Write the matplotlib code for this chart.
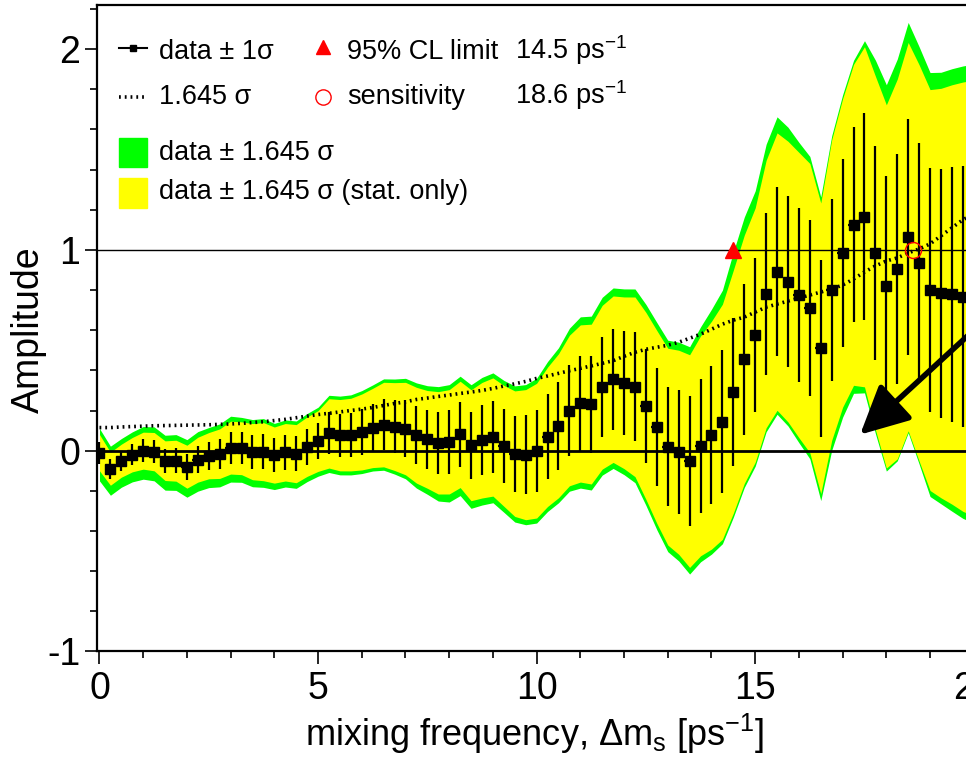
import matplotlib
matplotlib.use("Agg")
import matplotlib.pyplot as plt
import numpy as np
from matplotlib.lines import Line2D
from matplotlib.patches import Rectangle
from matplotlib.ticker import MultipleLocator, FormatStrFormatter

plt.rcParams["font.family"] = ["Liberation Sans", "DejaVu Sans"]
plt.rcParams["mathtext.fontset"] = "custom"
plt.rcParams["mathtext.rm"] = "Liberation Sans"
plt.rcParams["mathtext.it"] = "Liberation Sans:italic"
plt.rcParams["mathtext.default"] = "regular"
plt.rcParams["axes.unicode_minus"] = False

# amplitude scan, one point every 0.25 ps^-1
dms = np.linspace(0.0, 20.0, 81)

amp = [
    -0.010, -0.090, -0.050, -0.020, 0.000, -0.005, -0.050, -0.050,
    -0.080, -0.045, -0.025, -0.015, 0.015, 0.012, -0.005, -0.005,
    -0.022, -0.008, -0.015, 0.020, 0.048, 0.086, 0.077, 0.080,
    0.093, 0.113, 0.130, 0.120, 0.110, 0.077, 0.056, 0.039,
    0.044, 0.081, 0.027, 0.052, 0.068, 0.024, -0.015, -0.020,
    0.000, 0.069, 0.124, 0.200, 0.235, 0.232, 0.316, 0.356,
    0.338, 0.318, 0.223, 0.118, 0.020, -0.008, -0.052, 0.024,
    0.077, 0.144, 0.294, 0.455, 0.576, 0.780, 0.892, 0.842,
    0.775, 0.710, 0.510, 0.800, 0.985, 1.125, 1.165, 0.985,
    0.818, 0.905, 1.066, 0.935, 0.800, 0.785, 0.778, 0.767,
    0.760,
]

# statistical error (error bars, yellow band)
sig_stat = [
    0.055, 0.050, 0.050, 0.052, 0.056, 0.058, 0.060, 0.062,
    0.065, 0.068, 0.070, 0.075, 0.080, 0.080, 0.085, 0.088,
    0.085, 0.087, 0.088, 0.090, 0.092, 0.105, 0.108, 0.110,
    0.115, 0.120, 0.128, 0.133, 0.140, 0.145, 0.148, 0.155,
    0.158, 0.161, 0.168, 0.175, 0.179, 0.183, 0.190, 0.197,
    0.204, 0.211, 0.218, 0.228, 0.238, 0.242, 0.248, 0.252,
    0.260, 0.272, 0.283, 0.292, 0.298, 0.309, 0.322, 0.333,
    0.345, 0.356, 0.368, 0.376, 0.385, 0.405, 0.420, 0.425,
    0.432, 0.438, 0.440, 0.455, 0.467, 0.486, 0.515, 0.535,
    0.550, 0.575, 0.588, 0.600, 0.607, 0.620, 0.635, 0.650,
    0.660,
]

# 1.645 sigma (total), dotted curve
sens = [
    0.115, 0.115, 0.118, 0.120, 0.122, 0.124, 0.125, 0.126,
    0.127, 0.128, 0.129, 0.131, 0.133, 0.136, 0.140, 0.144,
    0.150, 0.156, 0.164, 0.172, 0.180, 0.186, 0.193, 0.200,
    0.207, 0.215, 0.225, 0.235, 0.243, 0.255, 0.262, 0.270,
    0.277, 0.285, 0.292, 0.300, 0.310, 0.322, 0.333, 0.345,
    0.360, 0.372, 0.385, 0.398, 0.410, 0.422, 0.435, 0.448,
    0.470, 0.490, 0.505, 0.515, 0.525, 0.540, 0.560, 0.580,
    0.605, 0.630, 0.650, 0.665, 0.690, 0.715, 0.730, 0.745,
    0.760, 0.775, 0.790, 0.805, 0.825, 0.855, 0.890, 0.920,
    0.945, 0.960, 0.985, 1.005, 1.030, 1.070, 1.110, 1.150,
    1.180,
]

# extra width of the total-error band above / below the stat-only band
syst_hi = [
    0.030, 0.030, 0.028, 0.028, 0.028, 0.028, 0.028, 0.028,
    0.028, 0.028, 0.025, 0.025, 0.025, 0.022, 0.020, 0.020,
    0.018, 0.018, 0.018, 0.017, 0.017, 0.017, 0.017, 0.017,
    0.017, 0.017, 0.017, 0.018, 0.020, 0.022, 0.024, 0.025,
    0.025, 0.025, 0.025, 0.025, 0.025, 0.025, 0.025, 0.025,
    0.025, 0.028, 0.030, 0.035, 0.040, 0.040, 0.040, 0.040,
    0.040, 0.040, 0.040, 0.040, 0.040, 0.040, 0.040, 0.045,
    0.060, 0.070, 0.090, 0.090, 0.085, 0.080, 0.080, 0.070,
    0.050, 0.035, 0.030, 0.020, 0.020, 0.020, 0.030, 0.080,
    0.100, 0.100, 0.100, 0.090, 0.085, 0.080, 0.080, 0.080,
    0.080,
]
syst_lo = [
    0.050, 0.050, 0.050, 0.050, 0.050, 0.050, 0.048, 0.046,
    0.045, 0.045, 0.044, 0.042, 0.040, 0.038, 0.035, 0.033,
    0.032, 0.030, 0.028, 0.026, 0.024, 0.022, 0.020, 0.020,
    0.018, 0.017, 0.017, 0.018, 0.020, 0.025, 0.030, 0.035,
    0.040, 0.040, 0.038, 0.035, 0.033, 0.030, 0.028, 0.025,
    0.025, 0.025, 0.025, 0.027, 0.030, 0.030, 0.030, 0.030,
    0.030, 0.030, 0.030, 0.032, 0.033, 0.033, 0.033, 0.030,
    0.025, 0.022, 0.020, 0.020, 0.020, 0.020, 0.020, 0.020,
    0.025, 0.030, 0.035, 0.050, 0.050, 0.040, 0.030, 0.020,
    0.015, 0.010, 0.010, 0.015, 0.030, 0.030, 0.035, 0.035,
    0.035,
]

limit_dms = 14.5
sens_dms = 18.6
bin_half = 0.125
arrow_tip = (17.4, 0.08)
arrow_tail = (20.6, 0.72)

amp = np.array(amp)
sig_stat = np.array(sig_stat)
syst_hi = np.array(syst_hi)
syst_lo = np.array(syst_lo)

W, H = 966, 758
fig = plt.figure(figsize=(W / 100, H / 100), dpi=100)
ax = fig.add_axes([97 / W, (H - 651.4) / H, 903 / W, 646.4 / H])
ax.set_xlim(-0.057, 20.6)
ax.set_ylim(-1.0, 2.22)

dots = (0, (0.5, 1.1))
k = 1.645
y_hi = amp + k * sig_stat
y_lo = amp - k * sig_stat
ax.fill_between(dms, y_lo - syst_lo, y_hi + syst_hi, color="#00ff00", lw=0, zorder=1)
ax.fill_between(dms, y_lo, y_hi, color="#ffff00", lw=0, zorder=2)
ax.axhline(0, color="k", lw=2, zorder=3)
ax.axhline(1, color="k", lw=1, zorder=3)
ax.plot(dms, sens, color="k", lw=2.6, ls=dots, zorder=4)
ax.errorbar(dms, amp, yerr=sig_stat, xerr=bin_half, fmt="s", ms=6.5,
            color="k", elinewidth=1.6, capsize=0, zorder=5)
ax.plot([limit_dms], [1.0], "^", color="red", ms=11, zorder=6)
ax.plot([sens_dms], [1.0], "o", mfc="none", mec="red", mew=1.0, ms=11.5, zorder=6)
ax.annotate("", xy=arrow_tip, xytext=arrow_tail, annotation_clip=False,
            arrowprops=dict(arrowstyle="-|>,head_length=0.4,head_width=0.2",
                            mutation_scale=74, lw=4, color="k",
                            shrinkA=0, shrinkB=0), zorder=7)

for side in ("left", "bottom", "top"):
    ax.spines[side].set_linewidth(1.6)
ax.spines["right"].set_visible(False)

ax.xaxis.set_major_locator(MultipleLocator(5))
ax.xaxis.set_minor_locator(MultipleLocator(1))
ax.yaxis.set_major_locator(MultipleLocator(1))
ax.yaxis.set_minor_locator(MultipleLocator(0.2))
ax.yaxis.set_major_formatter(FormatStrFormatter("%g"))
ax.tick_params(which="both", direction="out", top=False, right=False,
               width=1.2, labelsize=27)
ax.tick_params(which="major", length=9)
ax.tick_params(which="minor", length=5)
ax.tick_params(axis="x", pad=5)
ax.tick_params(axis="y", pad=3)

ax.set_xlabel("mixing frequency, Δm$_s$ [ps$^{-1}$]", fontsize=26)
ax.xaxis.set_label_coords(0.485, -0.094)
ax.set_ylabel("Amplitude", fontsize=27)
ax.yaxis.set_label_coords(-0.055, 0.497)


def fx(x):
    return x / W


def fy(y):
    return 1 - y / H


# legend, drawn by hand like the ROOT one
fig.add_artist(Line2D([fx(119), fx(147)], [fy(48), fy(48)], color="k", lw=1.5))
fig.add_artist(Line2D([fx(133)], [fy(48)], marker="s", ms=5, color="k"))
fig.add_artist(Line2D([fx(323)], [fy(47)], marker="^", ms=10, color="red", ls="none"))
fig.add_artist(Line2D([fx(119), fx(147)], [fy(97), fy(97)], color="k", lw=2.6,
                      ls=dots))
fig.add_artist(Line2D([fx(323)], [fy(97)], marker="o", ms=11, mfc="none",
                      mec="red", mew=1.0, ls="none"))
fig.add_artist(Rectangle((fx(119), fy(167)), 28 / W, 29 / H, color="#00ff00",
                         transform=fig.transFigure))
fig.add_artist(Rectangle((fx(119), fy(208)), 28 / W, 30 / H, color="#ffff00",
                         transform=fig.transFigure))

lg = dict(fontsize=19.5, va="baseline", ha="left")
fig.text(fx(159), fy(59), "data ± 1σ", **lg)
fig.text(fx(347), fy(59), "95% CL limit", **lg)
fig.text(fx(515), fy(59), "%.1f ps$^{-1}$" % limit_dms, **lg)
fig.text(fx(159), fy(104), "1.645 σ", **lg)
fig.text(fx(347), fy(104), "sensitivity", **lg)
fig.text(fx(515), fy(104), "%.1f ps$^{-1}$" % sens_dms, **lg)
fig.text(fx(159), fy(160), "data ± 1.645 σ", **lg)
fig.text(fx(159), fy(199), "data ± 1.645 σ (stat. only)", **lg)

fig.savefig("out.png", dpi=100)
